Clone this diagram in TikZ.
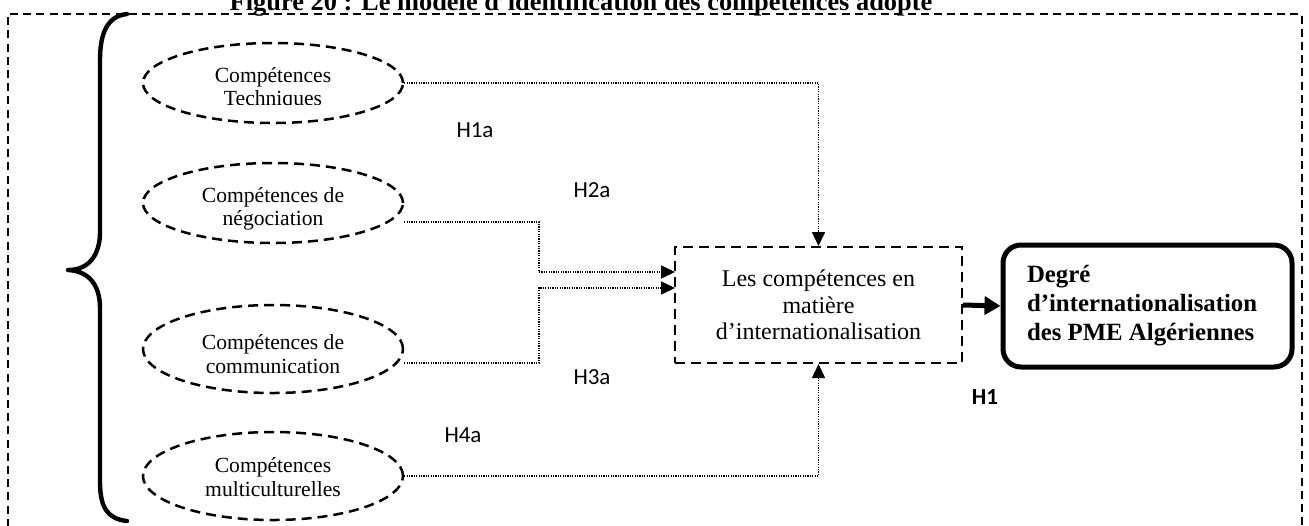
\documentclass[tikz,border=0pt]{standalone}
\usepackage{fontspec}
\setmainfont{Liberation Serif}
\newfontfamily\calib{Carlito}
\usetikzlibrary{arrows.meta,shapes.geometric,calc}
\begin{document}
\begin{tikzpicture}[x=0.5pt,y=-0.5pt,
  outer/.style={line width=1pt,dash pattern=on 4pt off 2.6pt},
  comp/.style={ellipse,draw,line width=1.25pt,dash pattern=on 5pt off 3pt,minimum width=130pt,inner sep=0pt},
  etext/.style={align=center,font=\fontsize{10.8}{11.6}\selectfont},
  conn/.style={line width=0.8pt,dash pattern=on 0.6pt off 0.6pt,-{Triangle[length=7pt,width=6.5pt]}},
  midbox/.style={draw,line width=1pt,dash pattern=on 5pt off 3pt,minimum width=143.5pt,minimum height=58pt,align=center,font=\fontsize{12}{13.3}\selectfont},
  resbox/.style={draw,line width=2.5pt,rounded corners=9pt,minimum width=144.5pt,minimum height=61pt,text width=120.5pt,align=flush left,font=\bfseries\fontsize{12.4}{14.5}\selectfont},
  hlab/.style={font=\calib\fontsize{11.5}{12}\selectfont},
  bigarrow/.style={line width=2.5pt,-{Triangle[length=8pt,width=9pt]}}]
\useasboundingbox (0,0) rectangle (1309,525);
% title
\node[anchor=base,font=\bfseries\fontsize{13.2}{14}\selectfont] (title) at (581,10) {Figure 20 : Le modèle d’identification des compétences adopté};
% outer dashed frame
\draw[outer] (8,540) -- (8,14) -- (1302,14) -- (1302,540);
% brace
\draw[line width=2.2pt,line cap=round,line join=round] (127,14) .. controls (108,16) and (100,32) .. (100,60) -- (100,232) .. controls (100,256) and (88,270) .. (68,270) .. controls (88,271) and (100,284) .. (100,308) -- (100,482) .. controls (100,508) and (108,519) .. (127,521);
% ellipses
\node[comp,minimum height=40pt] (e1) at (273,83) {};
\node[comp,minimum height=40pt] (e2) at (273,203) {};
\node[comp,minimum height=44pt] (e3) at (273,349) {};
\node[comp,minimum height=44pt] (e4) at (273,476) {};
\begin{scope}
\clip (143,43) rectangle (403,104);
\node[etext] (t1) at (273,89) {Compétences\\Techniques};
\end{scope}
\begin{scope}
\clip (143,163) rectangle (403,229);
\node[etext] (t2) at (273,209) {Compétences de\\négociation};
\end{scope}
\node[etext] (t3) at (273,354) {Compétences de\\communication};
\node[etext] (t4) at (273,477) {Compétences\\multiculturelles};
% middle box
\node[midbox] (mid) at (818.5,305) {Les compétences en\\matière\\d’internationalisation};
% result box
\node[resbox] (res) at (1147.5,306) {Degré\\d’internationalisation\\des PME Algériennes};
% connectors
\coordinate (s2) at ($(e2.east)+(0,19)$);
\coordinate (s3) at ($(e3.east)+(0,14)$);
\coordinate (a2) at (675,272);
\coordinate (a3) at (675,288);
\draw[conn] (e1.east) -| (mid.north);
\draw[conn] (s2) -| ($(a2)+(-136,0)$) -- (a2);
\draw[conn] (s3) -| ($(a3)+(-136,0)$) -- (a3);
\draw[conn] (e4.east) -| (mid.south);
\draw[bigarrow] (mid.east) -- (res.west);
% labels
\node[hlab] (h1a) at (475,130) {H1a};
\node[hlab] (h2a) at (592,190) {H2a};
\node[hlab] (h3a) at (592,377) {H3a};
\node[hlab] (h4a) at (463,435) {H4a};
\node[hlab,font=\calib\bfseries\fontsize{11.5}{12}\selectfont] (h1) at (985,397) {H1};
\end{tikzpicture}
\end{document}
